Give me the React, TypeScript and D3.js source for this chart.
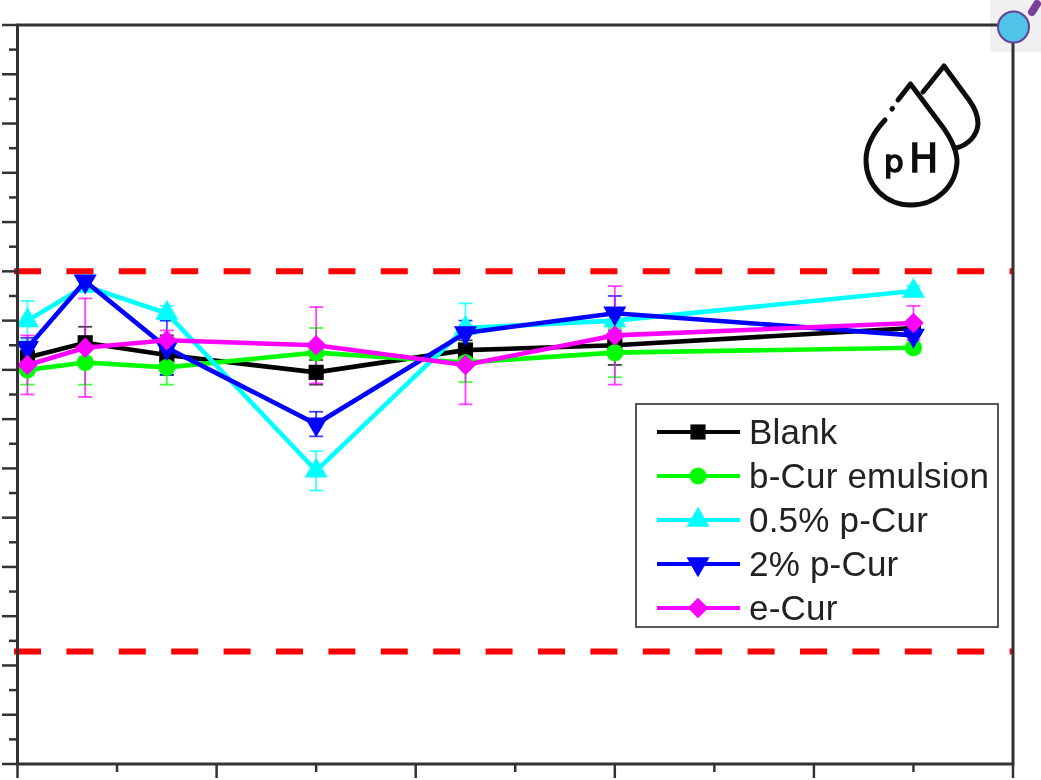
import React from "react";
import * as d3 from "d3";

const times = [0.5, 3.4, 7.5, 15, 22.5, 30, 45];
const seriesNames = ["Blank", "b-Cur emulsion", "0.5% p-Cur", "2% p-Cur", "e-Cur"];
const blank = [6.65, 6.71, 6.66, 6.59, 6.68, 6.7, 6.77];
const blankErr = [0.05, 0.065, 0.08, 0.05, 0.04, 0.08, 0.03];
const bCur = [6.6, 6.63, 6.61, 6.67, 6.63, 6.67, 6.69];
const bCurErr = [0.06, 0.09, 0.07, 0.1, 0.08, 0.1, 0.02];
const p05 = [6.8, 6.94, 6.83, 6.19, 6.77, 6.8, 6.92];
const p05Err = [0.08, 0.02, 0.03, 0.08, 0.1, 0.05, 0.02];
const p2 = [6.69, 6.96, 6.69, 6.38, 6.75, 6.83, 6.74];
const p2Err = [0.04, 0.02, 0.11, 0.05, 0.05, 0.07, 0.06];
const eCur = [6.62, 6.69, 6.72, 6.7, 6.62, 6.74, 6.79];
const eCurErr = [0.12, 0.2, 0.04, 0.155, 0.16, 0.2, 0.07];
const colors = ["#000000", "#00ff00", "#00ffff", "#0000ff", "#ff00ff"];
const limits = [7.0, 5.457];
const xMajor = [0, 10, 20, 30, 40, 50];
const xMinor = [5, 15, 25, 35, 45];
const yMajor = d3.range(0, 16).map((i) => 5 + i * 0.2);
const yMinor = d3.range(0, 15).map((i) => 5.1 + i * 0.2);

const allValues = [blank, bCur, p05, p2, eCur];
const allErrors = [blankErr, bCurErr, p05Err, p2Err, eCurErr];
const symbols = [d3.symbolSquare, d3.symbolCircle, d3.symbolTriangle, d3.symbolTriangle, d3.symbolSquare];
const symbolSizes = [230, 230, 230, 230, 210];
const symbolRotations = [0, 0, 0, 180, 45];

const L = 17.5, R = 1013, T = 25, B = 764;
const x = d3.scaleLinear().domain([0, 50]).range([L, R]);
const y = d3.scaleLinear().domain([5, 8]).range([B, T]);

function Marker({ i, cx, cy }: { i: number; cx: number; cy: number }) {
  const d = d3.symbol().type(symbols[i]).size(symbolSizes[i])() as string;
  return <path d={d} fill={colors[i]} transform={`translate(${cx},${cy}) rotate(${symbolRotations[i]})`} />;
}

export default function App() {
  const line = d3.line<number>().x((_, j) => x(times[j])).y((v) => y(v));
  return (
    <svg width={1041} height={780} style={{ position: "absolute", left: 0, top: 0, background: "#fff" }}>
      <defs>
        <filter id="soft" x="-2%" y="-2%" width="104%" height="104%">
          <feGaussianBlur stdDeviation="0.7" />
        </filter>
      </defs>
      <rect x={990} y={0} width={51} height={52} fill="#f0f0f3" />
      <g filter="url(#soft)">
        {limits.map((v) => (
          <line key={v} x1={14} x2={R} y1={y(v)} y2={y(v)} stroke="#ff0000" strokeWidth={6} strokeDasharray="27 25.4" />
        ))}
        {allValues.map((vals, i) => (
          <g key={i} stroke={colors[i]} strokeOpacity={0.75} strokeWidth={1.8}>
            {vals.map((v, j) => {
              const cx = x(times[j]);
              const up = y(v + allErrors[i][j]);
              const dn = y(v - allErrors[i][j]);
              return (
                <g key={j}>
                  <line x1={cx} x2={cx} y1={up} y2={dn} />
                  <line x1={cx - 7} x2={cx + 7} y1={up} y2={up} />
                  <line x1={cx - 7} x2={cx + 7} y1={dn} y2={dn} />
                </g>
              );
            })}
          </g>
        ))}
        {allValues.map((vals, i) => (
          <g key={i}>
            <path d={line(vals) as string} fill="none" stroke={colors[i]} strokeWidth={4.6} />
            {vals.map((v, j) => (
              <Marker key={j} i={i} cx={x(times[j])} cy={y(v)} />
            ))}
          </g>
        ))}
        <rect x={L} y={T} width={R - L} height={B - T} fill="none" stroke="#333" strokeWidth={3} />
        {yMajor.map((v) => (
          <line key={v} x1={2} x2={L} y1={y(v)} y2={y(v)} stroke="#333" strokeWidth={2.5} />
        ))}
        {yMinor.map((v) => (
          <line key={v} x1={9} x2={L} y1={y(v)} y2={y(v)} stroke="#333" strokeWidth={2.5} />
        ))}
        {xMajor.map((v) => (
          <line key={v} x1={x(v)} x2={x(v)} y1={B} y2={778} stroke="#333" strokeWidth={2.5} />
        ))}
        {xMinor.map((v) => (
          <line key={v} x1={x(v)} x2={x(v)} y1={B} y2={772} stroke="#333" strokeWidth={2.5} />
        ))}

        <rect x={636} y={404} width={362} height={223} fill="#fff" stroke="#444" strokeWidth={1.8} />
        {seriesNames.map((name, i) => {
          const ry = 432 + i * 44;
          return (
            <g key={name}>
              <line x1={657} x2={740} y1={ry} y2={ry} stroke={colors[i]} strokeWidth={4} />
              <Marker i={i} cx={698} cy={ry} />
              <text x={749} y={ry + 11.5} fontFamily="'Liberation Sans', Arial, sans-serif" fontSize={35} letterSpacing={0.2} fill="#222">
                {name}
              </text>
            </g>
          );
        })}

        <g fill="none" stroke="#111" strokeWidth={5} strokeLinecap="round" strokeLinejoin="round">
          <path d="M898 100 L910.5 84 L939 122 C950 136 956 148 957 160 C957 186 936 205 911 205 C886 205 866 186 866 160 C866 146 873 133 885 120" />
          <path d="M892 109 L892.5 108.5" />
          <path d="M923 92 L944 66 L969 100 C975 108 978 116 978 124 C977 136 968 145 956 148" />
        </g>
        <text x={884} y={172} fontFamily="'DejaVu Sans', sans-serif" fontSize={31} fill="#111" stroke="#111" strokeWidth={1.6}>p</text>
        <text x={909} y={172} fontFamily="'DejaVu Sans', sans-serif" fontSize={39} fill="#111" stroke="#111" strokeWidth={1.4}>H</text>
      </g>

      <line x1={1032} y1={12} x2={1037} y2={4} stroke="#7b3f98" strokeWidth={8} strokeLinecap="round" />
      <circle cx={1013.5} cy={27} r={15.5} fill="#4fc3e8" stroke="#6a3d9a" strokeWidth={2} />
    </svg>
  );
}
